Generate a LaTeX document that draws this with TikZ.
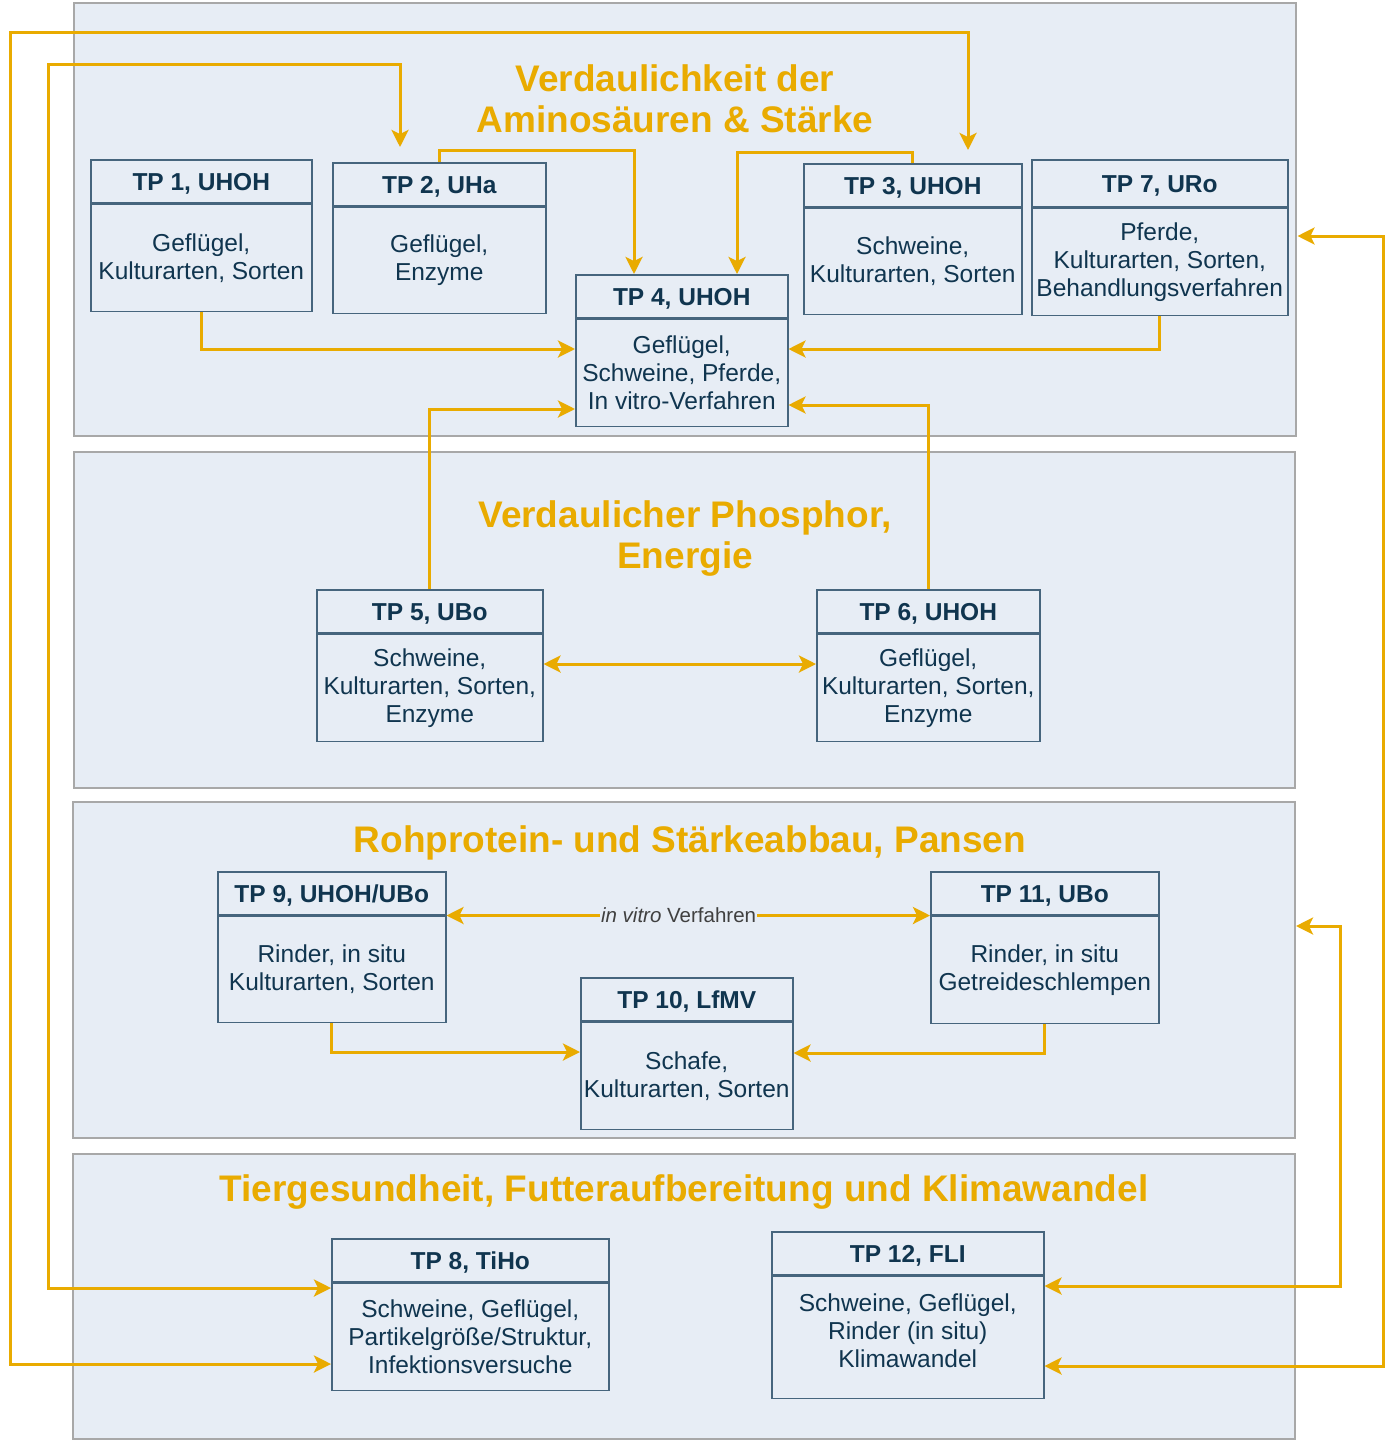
\documentclass[tikz,border=0pt]{standalone}
\usepackage{fontspec}
\setmainfont{Liberation Sans}
\usetikzlibrary{arrows.meta}

\definecolor{panelfill}{HTML}{E7EDF5}
\definecolor{panelline}{HTML}{A8A8A8}
\definecolor{boxline}{HTML}{46657D}
\definecolor{boxtext}{HTML}{10354F}
\definecolor{gold}{HTML}{E9AB00}

\tikzset{
  panel/.style={draw=panelline, fill=panelfill, line width=2pt, anchor=north west, inner sep=0pt},
  ptitle/.style={text=gold, font=\fontsize{37}{41}\selectfont\bfseries, align=center},
  tphead/.style={draw=boxline, line width=1.5pt, anchor=north west, minimum height=43pt, inner sep=0pt, text height=19pt, text depth=0pt, text=boxtext, font=\fontsize{24.5}{28}\selectfont\bfseries},
  tpbody/.style={draw=boxline, line width=1.5pt, anchor=north, inner sep=0pt, align=center, text=boxtext, font=\fontsize{24.5}{28}\selectfont},
  flow/.style={draw=gold, line width=3pt, -{Stealth[length=17pt,width=17pt,inset=4pt]}},
  both/.style={draw=gold, line width=3pt, {Stealth[length=17pt,width=17pt,inset=4pt]}-{Stealth[length=17pt,width=17pt,inset=4pt]}},
  vlabel/.style={fill=panelfill, text=black!75, inner sep=1pt, font=\fontsize{20.5}{22}\selectfont}
}

\begin{document}
\begin{tikzpicture}[x=1pt, y=-1pt]
        \useasboundingbox (0,0) rectangle (1385,1440);

        % The panels
        \node[panel, minimum width=1222pt, minimum height=433pt] (pA) at (73,2) {};
        \node[panel, minimum width=1221pt, minimum height=336pt] (pB) at (73,451) {};
        \node[panel, minimum width=1222pt, minimum height=336pt] (pC) at (72,801) {};
        \node[panel, minimum width=1222pt, minimum height=285pt] (pD) at (72,1153) {};

        % Panel titles
        \node[ptitle] (tA) at (675,99) {Verdaulichkeit der\\Aminosäuren \& Stärke};
        \node[ptitle] (tB) at (685,539) {Verdaulicher Phosphor,\\Energie};
        \node[ptitle] (tC) at (690,843) {Rohprotein- und Stärkeabbau, Pansen};
        \node[ptitle] (tD) at (684,1192) {Tiergesundheit, Futteraufbereitung und Klimawandel};

        % Top boxes
        \node[tphead, minimum width=221pt] (tp1) at (90,159) {TP 1, UHOH};
        \node[tpbody, minimum width=221pt, minimum height=107pt] (tp1b) at (tp1.south) {Geflügel,\\Kulturarten, Sorten};
        \node[tphead, minimum width=213pt] (tp2) at (332,162) {TP 2, UHa};
        \node[tpbody, minimum width=213pt, minimum height=106pt] (tp2b) at (tp2.south) {Geflügel,\\Enzyme};
        \node[tphead, minimum width=218pt] (tp3) at (803,163) {TP 3, UHOH};
        \node[tpbody, minimum width=218pt, minimum height=106pt] (tp3b) at (tp3.south) {Schweine,\\Kulturarten, Sorten};
        \node[tphead, minimum width=256pt, minimum height=47pt] (tp7) at (1031,159) {TP 7, URo};
        \node[tpbody, minimum width=256pt, minimum height=107pt] (tp7b) at (tp7.south) {Pferde,\\Kulturarten, Sorten,\\Behandlungsverfahren};
        \node[tphead, minimum width=212pt] (tp4) at (575,274) {TP 4, UHOH};
        \node[tpbody, minimum width=212pt, minimum height=107pt] (tp4b) at (tp4.south) {Geflügel,\\Schweine, Pferde,\\In vitro-Verfahren};

        % Middle boxes
        \node[tphead, minimum width=226pt] (tp5) at (316,589) {TP 5, UBo};
        \node[tpbody, minimum width=226pt, minimum height=107pt] (tp5b) at (tp5.south) {Schweine,\\Kulturarten, Sorten,\\Enzyme};
        \node[tphead, minimum width=223pt] (tp6) at (816,589) {TP 6, UHOH};
        \node[tpbody, minimum width=223pt, minimum height=107pt] (tp6b) at (tp6.south) {Geflügel,\\Kulturarten, Sorten,\\Enzyme};

        % Rumen boxes
        \node[tphead, minimum width=228pt] (tp9) at (217,871) {TP 9, UHOH/UBo};
        \node[tpbody, minimum width=228pt, minimum height=106pt] (tp9b) at (tp9.south) {Rinder, in situ\\Kulturarten, Sorten};
        \node[tphead, minimum width=228pt] (tp11) at (930,871) {TP 11, UBo};
        \node[tpbody, minimum width=228pt, minimum height=107pt] (tp11b) at (tp11.south) {Rinder, in situ\\Getreideschlempen};
        \node[tphead, minimum width=212pt] (tp10) at (580,977) {TP 10, LfMV};
        \node[tpbody, minimum width=212pt, minimum height=107pt] (tp10b) at (tp10.south) {Schafe,\\Kulturarten, Sorten};

        % Bottom boxes
        \node[tphead, minimum width=277pt] (tp8) at (331,1238) {TP 8, TiHo};
        \node[tpbody, minimum width=277pt, minimum height=107pt] (tp8b) at (tp8.south) {Schweine, Geflügel,\\Partikelgröße/Struktur,\\Infektionsversuche};
        \node[tphead, minimum width=272pt] (tp12) at (771,1231) {TP 12, FLI};
        \node[tpbody, minimum width=272pt, minimum height=122pt] (tp12b) at (tp12.south) {Schweine, Geflügel,\\Rinder (in situ)\\Klimawandel\\[-14pt]};

        % Edges into TP 4
        \draw[flow] (tp1b.south) |- (tp4b.west |- 0,349);
        \draw[flow] (tp7b.south) |- (tp4b.east |- 0,349);
        \draw[flow] (tp2.north) -- (tp2.north |- 0,150) -| (tp4.north -| 634,0);
        \draw[flow] (tp3.north) -- (tp3.north |- 0,152) -| (tp4.north -| 737,0);
        \draw[flow] (tp5.north) |- (tp4b.west |- 0,409);
        \draw[flow] (tp6.north) |- (tp4b.east |- 0,405);

        % Middle edges
        \draw[both] (tp5b.east |- 0,664) -- (tp6b.west |- 0,664);
        \draw[both] (tp9b.north east) -- node[vlabel, pos=0.48] (iv) {\textit{in vitro} Verfahren} (tp11b.north west);
        \draw[flow] (tp9b.south) |- (tp10b.west |- 0,1052);
        \draw[flow] (tp11b.south) |- (tp10b.east |- 0,1053);

        % The outer edges
        \draw[both, shorten >=13pt] (tp8b.west |- 0,1364) -| (10,32) -| (tp3.north -| 968,0);
        \draw[both, shorten >=15pt] (tp8b.west |- 0,1288) -| (48,64) -| (tp2.north -| 400,0);
        \draw[both, shorten >=9pt] (tp12b.east |- 0,1366) -| (1383,236) -- (tp7b.east |- 0,236);
        \draw[both] (tp12b.east |- 0,1286) -| (1340,926) -- (pC.east |- 0,926);

\end{tikzpicture}
\end{document}
